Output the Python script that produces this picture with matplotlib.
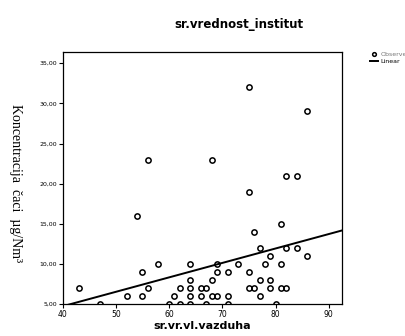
import numpy as np
import matplotlib.pyplot as plt

# Podaci ocitani sa grafika
vl_vazduha = np.array([43, 47, 52, 54, 55, 55, 56, 56, 58, 60, 61, 62, 62, 64, 64, 64, 64, 64,
                       66, 66, 67, 67, 68, 68, 68, 69, 69, 69, 71, 71, 71, 73, 75, 75, 75, 75,
                       76, 76, 77, 77, 77, 78, 79, 79, 79, 80, 81, 81, 81, 82, 82, 82, 84, 84,
                       86, 86])
koncentracija = np.array([7, 5, 6, 16, 9, 6, 7, 23, 10, 5, 6, 7, 5, 10, 8, 7, 6, 5,
                          7, 6, 7, 5, 8, 6, 23, 10, 9, 6, 9, 6, 5, 10, 32, 19, 9, 7,
                          14, 7, 12, 8, 6, 10, 11, 8, 7, 5, 15, 10, 7, 21, 12, 7, 21, 12,
                          29, 11])

y_ticks = [5, 10, 15, 20, 25, 30, 35]
x_ticks = [40, 50, 60, 70, 80, 90]

narrow = ['Liberation Sans Narrow', 'DejaVu Sans']

fig = plt.figure(figsize=(4.06, 3.36), dpi=100)
ax = fig.add_axes([0.1544, 0.0952, 0.688, 0.750])

ax.plot(vl_vazduha, koncentracija, 'o', mfc='none', mec='black', ms=3.8, mew=1.1,
        label='Observed')

# linearna regresija
k, n = np.polyfit(vl_vazduha, koncentracija, 1)
xs = np.array([38, 95])
ax.plot(xs, k * xs + n, '-', color='black', lw=1.4, label='Linear')

ax.set_xlim(40, 92.5)
ax.set_ylim(5, 36.4)
ax.set_xticks(x_ticks)
ax.set_yticks(y_ticks)
ax.set_yticklabels([f'{v:.2f}'.replace('.', ',') for v in y_ticks],
                   family=narrow, fontsize=4.5)
ax.set_xticklabels([str(v) for v in x_ticks], family=narrow, fontsize=5.5)
ax.tick_params(direction='out', length=3, width=0.8, pad=1)
for s in ax.spines.values():
    s.set_linewidth(0.9)

ax.set_xlabel('sr.vr.vl.vazduha', family=narrow, fontsize=8, fontweight='bold', labelpad=2)
fig.text(0.037, 0.454, 'Koncentracija  čaci  µg/Nm³', rotation=270, family='Liberation Serif',
         fontsize=10, ha='center', va='center')
fig.text(0.589, 0.928, 'sr.vrednost_institut', family=narrow, fontsize=8.5,
         fontweight='bold', ha='center', va='center')

leg = ax.legend(loc='upper left', bbox_to_anchor=(1.09, 1.01), frameon=False,
                handlelength=1.3, handletextpad=0.4, labelspacing=0.2, markerscale=0.7,
                borderaxespad=0, prop={'family': narrow, 'size': 4.5})
leg.get_texts()[0].set_color('#777777')

fig.savefig('out.png', dpi=100)
